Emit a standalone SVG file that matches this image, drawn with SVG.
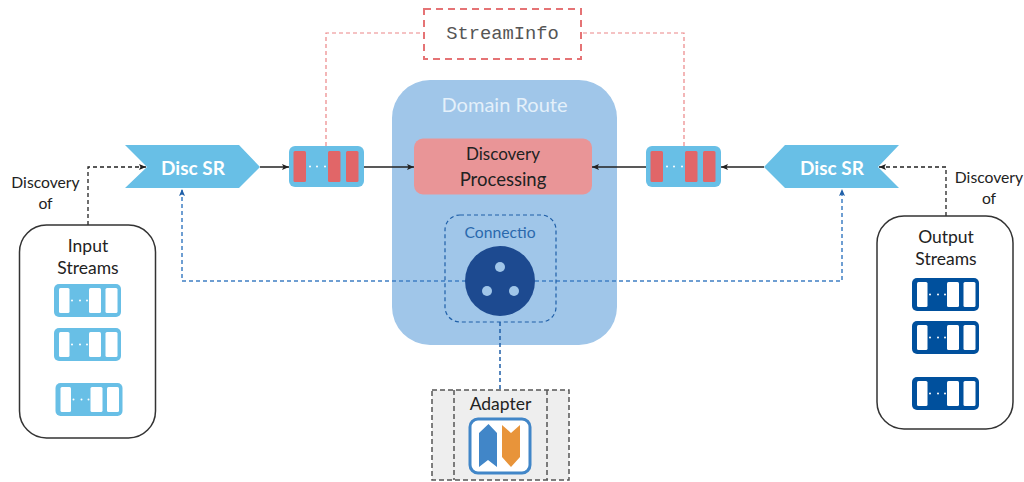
<svg xmlns="http://www.w3.org/2000/svg" width="1024" height="482" viewBox="0 0 1024 482">
<defs>
<marker id="ak" markerWidth="8" markerHeight="6" refX="7" refY="3" orient="auto" markerUnits="userSpaceOnUse"><path d="M0 0L7 3L0 6L1.500 3Z" fill="#222"/></marker>
<marker id="ab" markerWidth="8" markerHeight="6" refX="7" refY="3" orient="auto" markerUnits="userSpaceOnUse"><path d="M0 0L7 3L0 6L1.500 3Z" fill="#1f5fa8"/></marker>
<g id="mq"><rect x="0" y="0" width="67" height="33" rx="5"/><rect class="w" x="5" y="4" width="10.500" height="25" rx="1.500"/><rect class="w" x="35" y="4" width="12" height="25" rx="1.500"/><rect class="w" x="51.500" y="4" width="12" height="25" rx="1.500"/><circle class="w" cx="18" cy="16.500" r="1"/><circle class="w" cx="26" cy="16.500" r="1"/><circle class="w" cx="33" cy="16.500" r="1"/></g>
<g id="rq"><rect x="0" y="0" width="75" height="41" rx="6" fill="#68bfe6"/><rect class="r" x="4.500" y="5" width="12.500" height="31" rx="1.500"/><rect class="r" x="39" y="5" width="12.500" height="31" rx="1.500"/><rect class="r" x="57" y="5" width="12.500" height="31" rx="1.500"/><circle cx="21" cy="20.500" r="1" fill="#fff"/><circle cx="28" cy="20.500" r="1" fill="#fff"/><circle cx="36" cy="20.500" r="1" fill="#fff"/></g>
</defs>
<style>
text{font-family:"Lato","Open Sans",sans-serif;text-anchor:middle}
.t{font-size:17.500px;fill:#222}
.l{font-size:15.700px;fill:#222}
.sr{font-size:19px;font-weight:700;fill:#fff}
.w{fill:#fff}
.r{fill:#e16668}
.box{fill:#fff;stroke:#333;stroke-width:1.500}
.c{fill:none}
.kd{stroke:#222;stroke-width:1.300;stroke-dasharray:4 3}
.k{stroke:#222;stroke-width:1.500}
.bd{stroke:#3f7fc4;stroke-width:1.500;stroke-dasharray:4 3}
.pd{stroke:#ec8587;stroke-width:1.200;stroke-dasharray:4 3}
.gd{fill:none;stroke:#555;stroke-width:1.500;stroke-dasharray:5 3}
</style>
<rect width="1024" height="482" fill="#fff"/>
<g id="domain-route"><rect x="392" y="80" width="225" height="265" rx="38" fill="#a0c6e9"/><text x="504.500" y="112" style="fill:#e4f0fa;font-size:20px">Domain Route</text></g>
<g id="discovery-processing"><rect x="414" y="138.500" width="178" height="56" rx="9" fill="#e99597"/><text x="503" y="160" style="font-size:17px;fill:#222">Discovery</text><text x="503" y="186" style="font-size:18.500px;fill:#222">Processing</text></g>
<g id="connectors" class="c">
<path class="pd" d="M326 146V33H424M684 146V33H581"/>
<path class="kd" d="M88 225V167H146" marker-end="url(#ak)"/>
<path class="kd" d="M946 216V167H879" marker-end="url(#ak)"/>
<path class="k" d="M260 167H289" marker-end="url(#ak)"/>
<path class="k" d="M363 167H414" marker-end="url(#ak)"/>
<path class="k" d="M646 167H592" marker-end="url(#ak)"/>
<path class="k" d="M764 167H721" marker-end="url(#ak)"/>
<path class="bd" d="M466 281H182V189" marker-end="url(#ab)"/>
<path class="bd" d="M535 281H842V189" marker-end="url(#ab)"/>
<path class="bd" d="M500 322V390" style="stroke:#1f5fa8"/>
</g>
<g id="connection"><rect x="445" y="215" width="111" height="107" rx="15" fill="none" stroke="#1f5fa8" stroke-width="1.200" stroke-dasharray="4 3"/><text x="500" y="238" style="font-size:15.700px;fill:#2a69ad">Connectio</text><circle cx="500" cy="281" r="35" fill="#1d4a90"/><circle cx="500" cy="267" r="5" fill="#a0c6e9"/><circle cx="487" cy="291" r="5" fill="#a0c6e9"/><circle cx="514" cy="291" r="5" fill="#a0c6e9"/></g>
<g id="stream-info"><rect x="424" y="9" width="157" height="50" fill="#fff" stroke="#e57375" stroke-width="2" stroke-dasharray="7 5"/><text x="502.500" y="39" style="font-family:'Liberation Mono',monospace;font-size:18.800px;fill:#555">StreamInfo</text></g>
<g id="disc-sr-left"><polygon points="125,145 239,145 260,167 239,188 125,188 147,167" fill="#68bfe6"/><text x="193" y="175" class="sr">Disc SR</text></g>
<g id="disc-sr-right"><polygon points="899,145 785,145 764,167 785,188 899,188 878,167" fill="#68bfe6"/><text x="832" y="175" class="sr">Disc SR</text></g>
<g id="queue-left"><use href="#rq" x="289" y="146"/></g>
<g id="queue-right"><use href="#rq" x="646" y="146"/></g>
<g id="input-streams"><rect class="box" x="19.500" y="225" width="136" height="213" rx="27"/><text x="88" y="252" class="t">Input</text><text x="88" y="274" class="t">Streams</text>
<use href="#mq" x="54" y="284" fill="#68bfe6"/><use href="#mq" x="54" y="328" fill="#68bfe6"/><use href="#mq" x="55.500" y="383" fill="#68bfe6"/></g>
<g id="output-streams"><rect class="box" x="877" y="216" width="136" height="213" rx="27"/><text x="946" y="243" class="t">Output</text><text x="946" y="265" class="t">Streams</text>
<use href="#mq" x="912" y="278" fill="#00509d"/><use href="#mq" x="912" y="321" fill="#00509d"/><use href="#mq" x="912" y="377" fill="#00509d"/></g>
<g id="label-left"><text x="45.500" y="188" class="l">Discovery</text><text x="45.500" y="209" class="l">of</text></g>
<g id="label-right"><text x="989" y="183" class="l">Discovery</text><text x="989" y="204" class="l">of</text></g>
<g id="adapter"><rect x="432" y="390" width="137" height="90" fill="#eee" stroke="none"/><rect class="gd" x="432" y="390" width="137" height="90"/><path class="gd" d="M454 390V480M547 390V480"/><text x="500.500" y="410" style="font-size:17.500px;fill:#222">Adapter</text>
<rect x="470" y="419" width="60" height="54" rx="8" fill="#fff" stroke="#4186c8" stroke-width="3"/>
<polygon points="479,433 488.500,424 497,433 497,467 488,460 479,467" fill="#4186c8"/><polygon points="502,425 511,433 520,425 520,457 511,467 502,457" fill="#e8943a"/></g>
</svg>
